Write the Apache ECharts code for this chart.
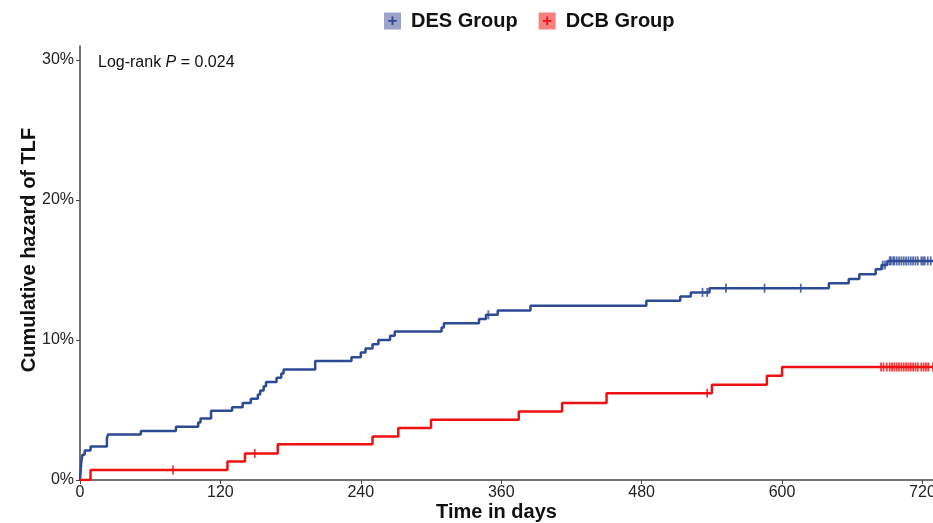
<!DOCTYPE html>
<html>
<head>
<meta charset="utf-8">
<script src="https://cdn.jsdelivr.net/npm/echarts@6/dist/echarts.min.js"></script>
<style>html,body{margin:0;padding:0;background:#fff;}#c{width:933px;height:523px;}</style>
</head>
<body>
<div id="c"></div>
<script>
// ---- data (cumulative hazard, %) ----
const seriesNames = ['DES Group', 'DCB Group'];
const desTimes  = [0, 0.5, 1, 2, 4, 9, 23, 24, 52, 82, 101, 103, 112, 130, 139, 146, 152, 154, 157, 159, 168, 172, 174, 201, 232, 240, 244, 250, 255, 265, 269, 309, 311, 341, 347, 357, 385, 484, 513, 522, 538, 640, 657, 666, 680, 685, 690];
const desValues = [0, 0.6, 1.2, 1.8, 2.1, 2.4, 3.0, 3.25, 3.5, 3.8, 4.1, 4.4, 4.95, 5.2, 5.5, 5.8, 6.1, 6.4, 6.7, 7.0, 7.3, 7.6, 7.9, 8.5, 8.76, 9.1, 9.4, 9.7, 10.0, 10.3, 10.6, 10.9, 11.2, 11.5, 11.8, 12.1, 12.45, 12.8, 13.1, 13.4, 13.7, 14.05, 14.36, 14.7, 15.05, 15.35, 15.65];
const dcbTimes  = [0, 9, 126, 141, 169, 250, 272, 300, 375, 412, 450, 540, 587, 600];
const dcbValues = [0, 0.72, 1.33, 1.9, 2.55, 3.1, 3.72, 4.3, 4.9, 5.5, 6.2, 6.8, 7.45, 8.07];
const desCensorTimes = [349, 532, 536, 552, 585, 616, 686, 688, 692, 693, 695, 696, 698, 700, 702, 704, 706, 708, 710, 712, 714, 716, 719, 720.5, 722, 724.5, 727];
const dcbCensorTimes = [79.5, 149.4, 536, 684.6, 686.7, 689.5, 692, 694, 696, 698, 700, 702, 704, 706, 708, 710, 712, 714, 716, 719, 721, 723, 725, 729];
const followUpEnd = 730;
const xTicks = [0, 120, 240, 360, 480, 600, 720];
const yTicks = [0, 10, 20, 30];
const pText = '0.024';

// ---- helpers ----
function stepValue(times, values, t) {
  let v = values[0];
  for (let i = 0; i < times.length; i++) { if (times[i] <= t) v = values[i]; }
  return v;
}
function curve(times, values) {
  const d = times.map((t, i) => [t, values[i]]);
  d.push([followUpEnd, values[values.length - 1]]);
  return d;
}
function censors(ct, times, values) {
  return ct.map(t => [t, stepValue(times, values, t)]);
}

const blue = '#2E4A94', red = '#EE1111';
const font = '"Liberation Sans", Arial, Helvetica, sans-serif';

const chart = echarts.init(document.getElementById('c'), null, {renderer: 'canvas'});
chart.setOption({
  animation: false,
  textStyle: {fontFamily: font},
  title: {
    text: '{a|Log-rank }{i|P}{a| = ' + pText + '}',
    left: 93, top: 50,
    textStyle: {fontWeight: 'normal', rich: {
      a: {fontFamily: font, fontSize: 16, color: '#111', fontWeight: 'normal'},
      i: {fontFamily: font, fontSize: 16, color: '#111', fontStyle: 'italic', fontWeight: 'normal'}
    }}
  },
  legend: {
    left: 374, top: 6,
    data: seriesNames,
    icon: 'rect', itemWidth: 0, itemHeight: 0, itemGap: 16,
    selectedMode: false,
    formatter: n => (n === seriesNames[0] ? '{bd|+}' : '{br|+}') + '{t|' + n + '}',
    textStyle: {rich: {
      bd: {width: 17, height: 17, lineHeight: 17, align: 'center', backgroundColor: 'rgba(59,73,146,0.5)', color: blue, fontSize: 17, fontWeight: 'bold', fontFamily: font},
      br: {width: 17, height: 17, lineHeight: 17, align: 'center', backgroundColor: 'rgba(238,0,0,0.5)', color: red, fontSize: 17, fontWeight: 'bold', fontFamily: font},
      t: {fontSize: 20, fontWeight: 'bold', color: '#111', fontFamily: font, padding: [0, 0, 0, 10]}
    }}
  },
  grid: {left: 80, right: 0, top: 46, bottom: 43, containLabel: false, outerBoundsMode: 'none'},
  xAxis: {
    type: 'value', min: 0, max: 729,
    name: 'Time in days', nameLocation: 'middle', nameGap: 22, nameMoveOverlap: false,
    nameTextStyle: {fontSize: 20, fontWeight: 'bold', color: '#111', fontFamily: font, padding: [0, 20, 0, 0]},
    axisLine: {show: true, lineStyle: {color: '#444', width: 1.5}},
    axisTick: {show: true, length: 4, lineStyle: {color: '#444'}, customValues: xTicks},
    axisLabel: {fontSize: 16, color: '#222', margin: 5, customValues: xTicks, fontFamily: font},
    splitLine: {show: false}
  },
  yAxis: {
    type: 'value', min: 0, max: 31,
    name: 'Cumulative hazard of TLF', nameLocation: 'middle', nameGap: 41, nameMoveOverlap: false,
    nameTextStyle: {fontSize: 20, fontWeight: 'bold', color: '#111', fontFamily: font, padding: [0, 0, 0, 26]},
    axisLine: {show: true, lineStyle: {color: '#444', width: 1.5}},
    axisTick: {show: true, length: 4, lineStyle: {color: '#444'}, customValues: yTicks},
    axisLabel: {fontSize: 16, color: '#222', margin: 6, customValues: yTicks, formatter: v => v + '%', fontFamily: font},
    splitLine: {show: false}
  },
  series: [
    {name: seriesNames[0], type: 'line', step: 'end', showSymbol: false, symbol: 'none',
     data: curve(desTimes, desValues), lineStyle: {color: blue, width: 2.5}, itemStyle: {color: blue}, z: 3},
    {name: seriesNames[1], type: 'line', step: 'end', showSymbol: false, symbol: 'none',
     data: curve(dcbTimes, dcbValues), lineStyle: {color: red, width: 2.5}, itemStyle: {color: red}, z: 3},
    {name: 'DES censor', type: 'scatter', symbol: 'rect', symbolSize: [1.8, 9],
     data: censors(desCensorTimes, desTimes, desValues), itemStyle: {color: blue}, z: 4},
    {name: 'DCB censor', type: 'scatter', symbol: 'rect', symbolSize: [1.8, 9],
     data: censors(dcbCensorTimes, dcbTimes, dcbValues), itemStyle: {color: red}, z: 4}
  ]
});
</script>
</body>
</html>
